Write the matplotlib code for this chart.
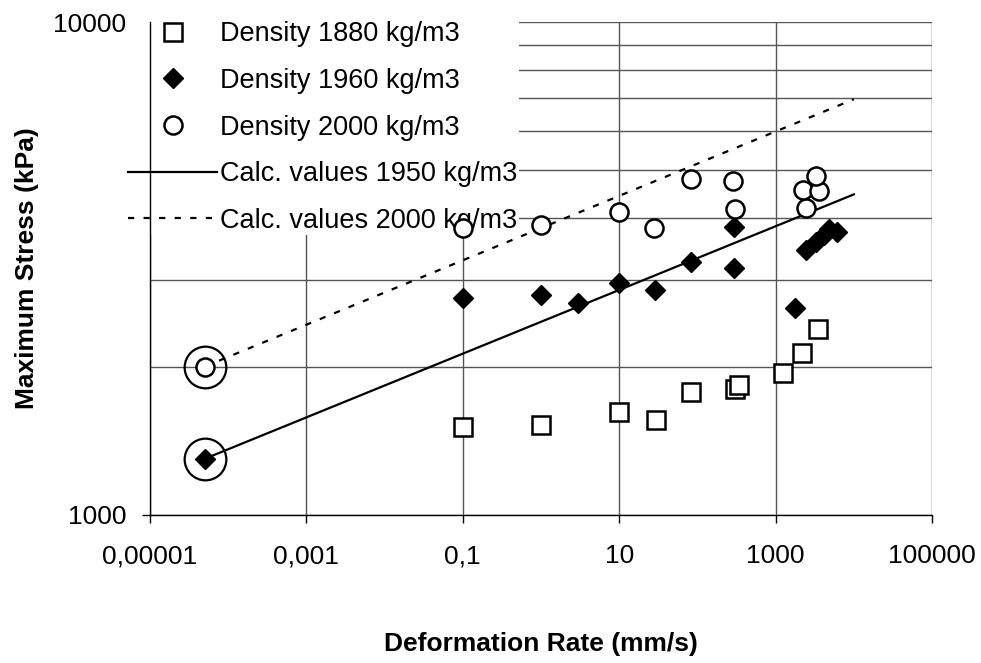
import matplotlib
matplotlib.use('Agg')
import matplotlib.pyplot as plt
import numpy as np

plt.rcParams['font.family'] = ['Liberation Sans', 'DejaVu Sans']

# measured points, deformation rate (mm/s) vs maximum stress (kPa)
rate_1880 = [0.1, 1, 10, 29.6, 83, 300, 337, 1254, 2193, 3515]
stress_1880 = [1510, 1522, 1620, 1558, 1774, 1799, 1833, 1938, 2128, 2381]

rate_1960 = [5e-5, 0.1, 1, 2.94, 10, 28.7, 83, 290, 290, 1770,
             2450, 3290, 4160, 4820, 6100]
stress_1960 = [1300, 2760, 2793, 2688, 2960, 2860, 3263, 3844, 3176, 2625,
               3446, 3579, 3698, 3802, 3750]

rate_2000 = [5e-5, 0.1, 1, 10, 28, 82, 288, 303, 2450, 2220, 3620, 3290]
stress_2000 = [2000, 3815, 3874, 4125, 3826, 4797, 4766, 4176, 4190, 4565,
               4543, 4880]

# calculated values
calc_rate = [5e-5, 1e4]
calc_1950 = [1300, 4470]
calc_2000 = [2000, 6970]

# highlighted starting points
mark_rate = [5e-5, 5e-5]
mark_stress = [1300, 2000]

x_ticks = [1e-5, 1e-3, 1e-1, 1e1, 1e3, 1e5]
x_labels = ['0,00001', '0,001', '0,1', '10', '1000', '100000']
y_ticks = [1000, 10000]
y_labels = ['1000', '10000']

fig = plt.figure(figsize=(9.81, 6.63), dpi=100)
ax = fig.add_axes([150 / 981, 1 - 515 / 663, 782 / 981, 493 / 663])
ax.set_xscale('log')
ax.set_yscale('log')
ax.set_xlim(1e-5, 1e5)
ax.set_ylim(1000, 10000)

l1, = ax.plot(rate_1880, stress_1880, linestyle='none', marker='s', ms=12.5,
              mfc='white', mec='black', mew=1.8, zorder=3,
              label='Density 1880 kg/m3')
l2, = ax.plot(rate_1960, stress_1960, linestyle='none', marker='D', ms=10,
              mfc='black', mec='black', mew=1, zorder=3,
              label='Density 1960 kg/m3')
l3, = ax.plot(rate_2000, stress_2000, linestyle='none', marker='o', ms=13,
              mfc='white', mec='black', mew=1.8, zorder=3,
              label='Density 2000 kg/m3')
l4, = ax.plot(calc_rate, calc_1950, color='black', lw=1.6, zorder=2,
              label='Calc. values 1950 kg/m3')
l5, = ax.plot(calc_rate, calc_2000, color='black', lw=1.6,
              linestyle=(0, (2.8, 4.2)), zorder=2,
              label='Calc. values 2000 kg/m3')
ax.plot(mark_rate, mark_stress, linestyle='none', marker='o', ms=30,
        mfc='none', mec='black', mew=1.6, zorder=3)

ax.set_xticks(x_ticks)
ax.set_xticklabels(x_labels)
ax.xaxis.set_minor_locator(matplotlib.ticker.NullLocator())
ax.set_yticks(y_ticks)
ax.set_yticklabels(y_labels)
ax.set_yticks([2000, 3000, 4000, 5000, 6000, 7000, 8000, 9000], minor=True)
ax.yaxis.set_minor_formatter(matplotlib.ticker.NullFormatter())
ax.tick_params(axis='both', which='major', length=6, width=1, direction='out',
               labelsize=19, color='black')
ax.tick_params(axis='x', pad=15)
ax.tick_params(axis='y', pad=11)
ax.tick_params(axis='y', which='minor', length=0)

ax.grid(True, which='major', color='#555555', lw=1)
ax.grid(True, which='minor', axis='y', color='#555555', lw=1)
ax.set_axisbelow(True)

for side in ['top', 'right']:
    ax.spines[side].set_visible(False)
for side in ['left', 'bottom']:
    ax.spines[side].set_linewidth(1)
    ax.spines[side].set_color('black')

leg = fig.legend(handles=[l1, l2, l3, l4, l5], loc='upper left',
                 bbox_to_anchor=(126.5 / 981, 1 - 20 / 663), fontsize=19.5,
                 frameon=True, fancybox=False, facecolor='white',
                 edgecolor='none', framealpha=1, borderpad=0.05,
                 handlelength=3.3, handletextpad=0.12, labelspacing=0.76,
                 borderaxespad=0)
leg.remove()
ax.add_artist(leg)
leg.set_zorder(2.2)

fig.text(541 / 981, 1 - 644 / 663, 'Deformation Rate (mm/s)', fontsize=19,
         fontweight='bold', ha='center', va='center')
fig.text(27 / 981, 1 - 268 / 663, 'Maximum Stress (kPa)', fontsize=19,
         fontweight='bold', ha='center', va='center', rotation=90)

fig.savefig('out.png', dpi=100)
